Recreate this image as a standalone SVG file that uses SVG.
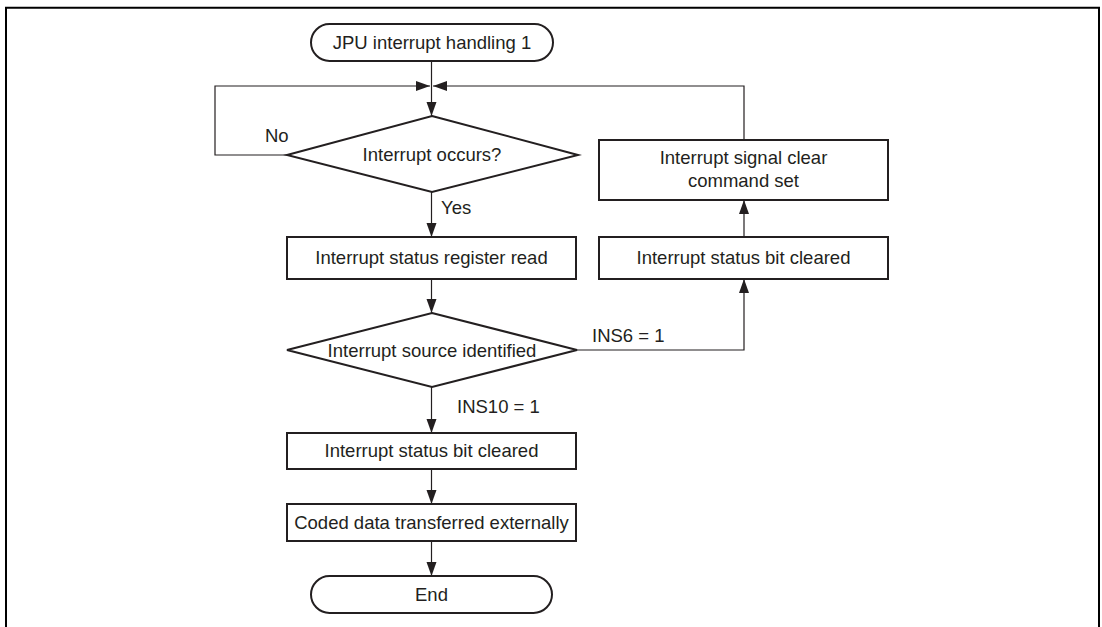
<svg xmlns="http://www.w3.org/2000/svg" width="1102" height="627" viewBox="0 0 1102 627">
<style>
.box{fill:#fff;stroke:#231f20;stroke-width:2}
.ln{fill:none;stroke:#231f20;stroke-width:1.2}
text{font-family:"Liberation Sans",Arial,sans-serif;font-size:18.5px;fill:#231f20}
.c{text-anchor:middle}
</style>
<defs>
<marker id="ah" markerUnits="userSpaceOnUse" markerWidth="16" markerHeight="11" refX="14" refY="5" orient="auto">
<path d="M0,0 L14,5 L0,10 z" fill="#231f20"/>
</marker>
</defs>
<rect width="1102" height="627" fill="#fff"/>
<path d="M6,627 V7.7 H1099 V627" fill="none" stroke="#000" stroke-width="2"/>
<g id="connectors">
<path class="ln" d="M431.5,61 V116" marker-end="url(#ah)"/>
<path class="ln" d="M287,155 H215 V86 H430" marker-end="url(#ah)"/>
<path class="ln" d="M744,140 V86 H433" marker-end="url(#ah)"/>
<path class="ln" d="M431.5,192 V237" marker-end="url(#ah)"/>
<path class="ln" d="M431.5,279 V313" marker-end="url(#ah)"/>
<path class="ln" d="M577,350 H744 V279" marker-end="url(#ah)"/>
<path class="ln" d="M744,237 V200" marker-end="url(#ah)"/>
<path class="ln" d="M431.5,387 V433" marker-end="url(#ah)"/>
<path class="ln" d="M431.5,469 V504" marker-end="url(#ah)"/>
<path class="ln" d="M431.5,541 V576" marker-end="url(#ah)"/>
<text x="265" y="142">No</text>
<text x="441" y="214">Yes</text>
<text x="592" y="342">INS6 = 1</text>
<text x="457" y="413">INS10 = 1</text>
</g>
<g id="start">
<rect class="box" x="311" y="24" width="242" height="37" rx="18.5"/>
<text class="c" x="432" y="49">JPU interrupt handling 1</text>
</g>
<g id="decision1">
<polygon class="box" points="432,116 578,155 432,192 287,155"/>
<text class="c" x="432" y="161">Interrupt occurs?</text>
</g>
<g id="readStatus">
<rect class="box" x="287" y="237" width="289" height="42"/>
<text class="c" x="431.5" y="264">Interrupt status register read</text>
</g>
<g id="decision2">
<polygon class="box" points="432,313 577,350 432,387 287,350"/>
<text class="c" x="432" y="357">Interrupt source identified</text>
</g>
<g id="clearBit1">
<rect class="box" x="287" y="433" width="289" height="36"/>
<text class="c" x="431.5" y="457">Interrupt status bit cleared</text>
</g>
<g id="transfer">
<rect class="box" x="287" y="504" width="289" height="37"/>
<text class="c" x="431.5" y="529">Coded data transferred externally</text>
</g>
<g id="end">
<rect class="box" x="311" y="576" width="241" height="37" rx="18.5"/>
<text class="c" x="431.5" y="601">End</text>
</g>
<g id="clearBit2">
<rect class="box" x="599" y="237" width="289" height="42"/>
<text class="c" x="743.5" y="264">Interrupt status bit cleared</text>
</g>
<g id="clearCmd">
<rect class="box" x="599" y="140" width="289" height="60"/>
<text class="c" x="743.5" y="164">Interrupt signal clear</text>
<text class="c" x="743.5" y="187">command set</text>
</g>
</svg>
